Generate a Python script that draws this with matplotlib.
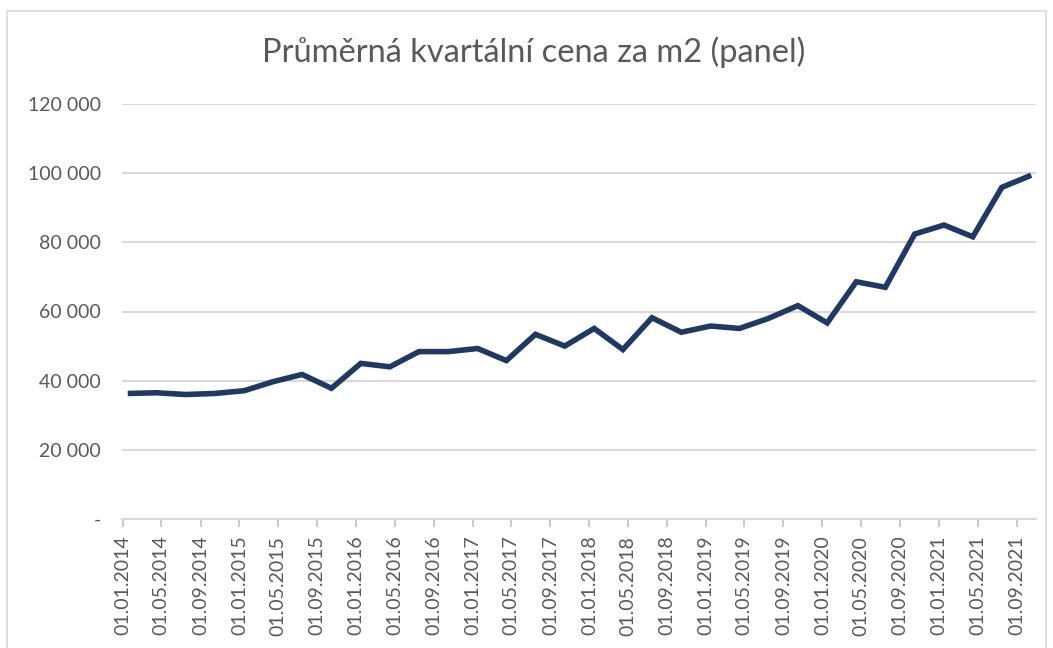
import matplotlib
matplotlib.use("Agg")
import matplotlib.pyplot as plt
from matplotlib.ticker import FuncFormatter, FixedLocator
from matplotlib.patches import Rectangle
import pandas as pd

# ---- data ----
title = "Průměrná kvartální cena za m2 (panel)"
start_quarter = "2014-01-01"
n_quarters = 32
values = [36300, 36500, 36000, 36300, 37100, 39700, 41800, 37800,
          45000, 44000, 48400, 48400, 49300, 45800, 53400, 50000,
          55100, 49000, 58200, 54000, 55800, 55100, 58000, 61700,
          56700, 68600, 67000, 82400, 85000, 81600, 95900, 99400]
y_ticks = [0, 20000, 40000, 60000, 80000, 100000, 120000]

dates = pd.date_range(start_quarter, periods=n_quarters, freq="QS")
# Excel month-based date axis centres each point within its month bucket
plot_dates = dates + pd.Timedelta(days=15)
tick_dates = pd.date_range("2014-01-01", "2021-09-01", freq="4MS")

FONT = ["Lato", "DejaVu Sans"]
GRAY = "#595959"
W, H = 1053, 648

fig = plt.figure(figsize=(W / 100, H / 100), dpi=100)
fig.patch.set_facecolor("white")

# outer chart border
fig.add_artist(Rectangle((7 / W, -0.01), (1046 - 7) / W, 1 - 11 / H + 0.01,
                         transform=fig.transFigure, fill=False,
                         edgecolor="#D9D9D9", linewidth=1.2))

left, right = 122 / W, 1036 / W
top, bottom = 1 - 104 / H, 1 - 519 / H
ax = fig.add_axes([left, bottom, right - left, top - bottom])

ax.plot(plot_dates, values, color="#203864", linewidth=4.0,
        solid_joinstyle="miter", solid_capstyle="butt", zorder=3)

ax.set_ylim(0, 120000)
ax.set_xlim(pd.Timestamp("2013-12-29"), pd.Timestamp("2021-10-31"))

ax.yaxis.set_major_locator(FixedLocator(y_ticks))
def yfmt(v, pos):
    if v == 0:
        return "-"
    return f"{int(v):,}".replace(",", " ")
ax.yaxis.set_major_formatter(FuncFormatter(yfmt))
ax.grid(axis="y", color="#D9D9D9", linewidth=1.5)
ax.set_axisbelow(True)

ax.set_xticks(tick_dates)
ax.set_xticklabels([d.strftime("%d.%m.%Y") for d in tick_dates],
                   rotation=90, fontfamily=FONT, fontsize=14, color=GRAY)
ax.tick_params(axis="x", direction="out", length=6, width=1.2,
               color="#BFBFBF", pad=6)
ax.tick_params(axis="y", length=0, pad=15)
for lbl in ax.get_yticklabels():
    lbl.set_fontfamily(FONT)
    lbl.set_fontsize(14)
    lbl.set_color(GRAY)

for s in ["top", "right", "left"]:
    ax.spines[s].set_visible(False)
ax.spines["bottom"].set_color("#D9D9D9")
ax.spines["bottom"].set_linewidth(1.5)

fig.text(534 / W, 1 - 52 / H, title, ha="center", va="center",
         fontfamily=FONT, fontsize=23.5, color=GRAY)

fig.savefig("out.png", dpi=100, facecolor="white")
